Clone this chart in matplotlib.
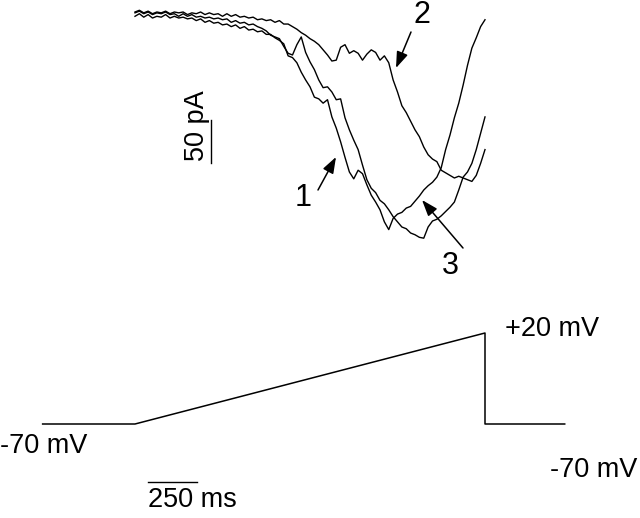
import numpy as np
import matplotlib
matplotlib.use("Agg")
import matplotlib.pyplot as plt

plt.rcParams['font.family'] = ['Liberation Sans', 'DejaVu Sans']

# ---------------- data ----------------
SAMPLE_MS = 22.5          # sampling interval of the current traces (ms)
RAMP_MS = 1800            # ramp duration (ms)

# whole-cell currents (pA) during the voltage ramp
trace1 = [-5, -2, -6, -3, -7, -5, -6, -3, -7, -5, -7, -6, -8, -7, -10, -8, -12, -10, -13, -12,
          -15, -14, -17, -15, -19, -17, -21, -20, -23, -22, -26, -26, -30, -33, -37, -51, -53, -59, -70, -79,
          -87, -99, -101, -106, -102, -122, -135, -151, -169, -186, -194, -184, -188, -201, -213, -221, -230, -244, -253, -240,
          -235, -233, -228, -226, -220, -214, -207, -202, -198, -192, -181, -160, -143, -123, -106, -85, -62, -42, -30, -17,
          -9]
trace2 = [0, 2, -1, 1, -2, 0, -1, 1, -2, 0, -1, 0, -3, -1, -2, 0, -3, -1, -3, -2,
          -5, -2, -5, -3, -6, -5, -7, -6, -9, -8, -10, -9, -12, -10, -14, -14, -17, -20, -24, -27,
          -31, -34, -38, -44, -50, -57, -56, -41, -38, -48, -45, -48, -56, -49, -44, -47, -56, -51, -59, -79,
          -93, -109, -117, -127, -137, -145, -157, -166, -171, -174, -184, -187, -190, -193, -191, -193, -195, -197, -190, -176,
          -160]
trace3 = [-1, 1, -2, 0, -3, -1, -2, 0, -3, -2, -5, -2, -5, -3, -6, -5, -7, -6, -8, -7,
          -9, -8, -12, -10, -13, -12, -15, -14, -17, -19, -22, -27, -29, -31, -40, -48, -50, -38, -29, -47,
          -58, -67, -79, -88, -87, -93, -102, -101, -123, -137, -149, -160, -178, -195, -205, -210, -219, -223, -230, -238,
          -244, -250, -252, -257, -259, -262, -263, -250, -243, -241, -237, -232, -227, -221, -207, -192, -186, -176, -160, -141,
          -122]

# voltage protocol
protocol_t = [-475, 0, RAMP_MS, RAMP_MS, 2210]   # ms
protocol_v = [-70, -70, 20, -70, -70]            # mV

# scale bars
bar_pA = 50
bar_ms = 250

# ---------------- layout ----------------
W, H = 640, 518
PX_PER_MS = 350 / RAMP_MS
T0_PX = 135
PX_PER_PA = 43 / 50
BASE_PX = 12
xlim = (-T0_PX / PX_PER_MS, (W - T0_PX) / PX_PER_MS)

fig = plt.figure(figsize=(W / 100, H / 100), dpi=100)

# current axes
axI = fig.add_axes([0, 0, 1, 1])
axI.set_xlim(*xlim)
axI.set_ylim(-(H - BASE_PX) / PX_PER_PA, BASE_PX / PX_PER_PA)
axI.axis('off')

t = np.arange(len(trace1)) * SAMPLE_MS
for tr in (trace1, trace2, trace3):
    axI.plot(t, tr, color='black', lw=1.0, solid_joinstyle='round')

# voltage axes
axV = fig.add_axes([0, 0, 1, 1], facecolor='none')
axV.set_xlim(*xlim)
mv_per_px = 90 / 91
axV.set_ylim(-70 - (H - 424) * mv_per_px, -70 + 424 * mv_per_px)
axV.axis('off')
axV.plot(protocol_t, protocol_v, color='black', lw=1.1)

def fx(px):
    return px / W

def fy(py):
    return 1 - py / H

FS = 19.5

# 50 pA scale bar
bar_t = (211 - T0_PX) / PX_PER_MS
bar_top = -(120 - BASE_PX) / PX_PER_PA
axI.plot([bar_t, bar_t], [bar_top, bar_top - bar_pA], color='black', lw=1.0)
fig.text(fx(197), fy(126), '50 pA', rotation=90, ha='center', va='center', fontsize=FS)

# 250 ms scale bar
sb_t0 = (148 - T0_PX) / PX_PER_MS
sb_v = -70 - (482 - 424) * mv_per_px
axV.plot([sb_t0, sb_t0 + bar_ms], [sb_v, sb_v], color='black', lw=1.0)
fig.text(fx(148), fy(500), '250 ms', ha='left', va='center', fontsize=FS)

# voltage labels
fig.text(fx(505), fy(329), '+20 mV', ha='left', va='center', fontsize=FS)
fig.text(fx(0), fy(446), '-70 mV', ha='left', va='center', fontsize=FS)
fig.text(fx(637), fy(470), '-70 mV', ha='right', va='center', fontsize=FS)

# trace labels and arrows
arrow_kw = dict(arrowstyle='-|>,head_length=0.7,head_width=0.25', color='black', lw=1.1,
                shrinkA=0, shrinkB=0)
def arrow(tail, head):
    fig.add_artist(matplotlib.patches.FancyArrowPatch(
        (fx(tail[0]), fy(tail[1])), (fx(head[0]), fy(head[1])),
        transform=fig.transFigure, mutation_scale=14, **arrow_kw))

fig.text(fx(422), fy(15), '2', ha='center', va='center', fontsize=22)
arrow((411, 32), (396, 68))
fig.text(fx(303), fy(198), '1', ha='center', va='center', fontsize=22)
arrow((318, 190), (336, 157))
fig.text(fx(450), fy(266), '3', ha='center', va='center', fontsize=22)
arrow((463, 248), (422, 200))

fig.savefig('out.png', dpi=100)
